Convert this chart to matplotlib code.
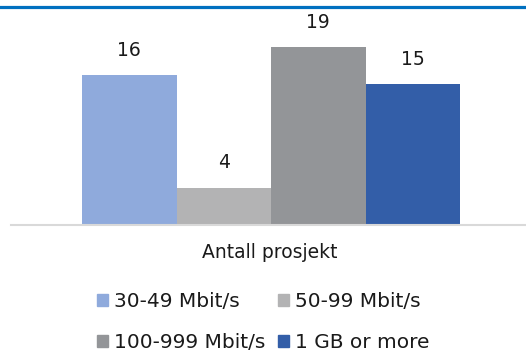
import matplotlib
matplotlib.use("Agg")
import matplotlib.pyplot as plt
from matplotlib.patches import Rectangle
from matplotlib.lines import Line2D

categories = ["30-49 Mbit/s", "50-99 Mbit/s", "100-999 Mbit/s", "1 GB or more"]
values = [16, 4, 19, 15]
colors = ["#8FAADC", "#B3B3B4", "#939598", "#335EA8"]
group_label = "Antall prosjekt"

W, H = 526, 354
DPI = 100
plt.rcParams["font.family"] = ["DejaVu Sans"]

fig = plt.figure(figsize=(W / DPI, H / DPI), dpi=DPI)

def px_rect(x0, y0, x1, y1):
    # pixel box (top-left origin) -> figure fraction [left, bottom, width, height]
    return [x0 / W, 1 - y1 / H, (x1 - x0) / W, (y1 - y0) / H]

ax = fig.add_axes(px_rect(11, 10, 526, 225))
bar_w = 94.5
left_px, right_px = 11, 526
x0_px = 82
xmin = -0.5 - (x0_px - left_px) / bar_w
xmax = xmin + (right_px - left_px) / bar_w
ax.set_xlim(xmin, xmax)
ppu = (225 - 47) / 19
ax.set_ylim(0, (225 - 10) / ppu)

xs = list(range(len(values)))
bars = ax.bar(xs, values, width=1.0, color=colors, linewidth=0)
for x, v in zip(xs, values):
    ax.annotate(str(v), (x, v), xytext=(0, 25), textcoords="offset pixels",
                ha="center", va="center", fontsize=13.5, color="#1a1a1a")

for s in ["top", "left", "right"]:
    ax.spines[s].set_visible(False)
ax.spines["bottom"].set_color("#D9D9D9")
ax.spines["bottom"].set_linewidth(1.5)
ax.set_yticks([])
ax.set_xticks([])

fig.text(270 / W, 1 - 253 / H, group_label, ha="center", va="center",
         fontsize=13.5, color="#1a1a1a")

# top rule
fig.add_artist(Line2D([0, 1], [1 - 7 / H, 1 - 7 / H], color="#0070C0",
                      linewidth=2.3, transform=fig.transFigure))

# legend reads row by row; matplotlib fills columns first, so reorder
order = [0, 2, 1, 3]
handles = [Rectangle((0, 0), 1, 1, color=colors[i]) for i in order]
labels = [categories[i] for i in order]
fig.legend(handles, labels, ncol=2, loc="upper left",
           bbox_to_anchor=(97 / W, 1 - 292 / H), frameon=False,
           fontsize=14.5, handlelength=0.55, handleheight=0.55,
           handletextpad=0.3, columnspacing=0.6, labelspacing=1.08,
           borderpad=0, borderaxespad=0, labelcolor="#1a1a1a")

fig.savefig("out.png", dpi=DPI)
